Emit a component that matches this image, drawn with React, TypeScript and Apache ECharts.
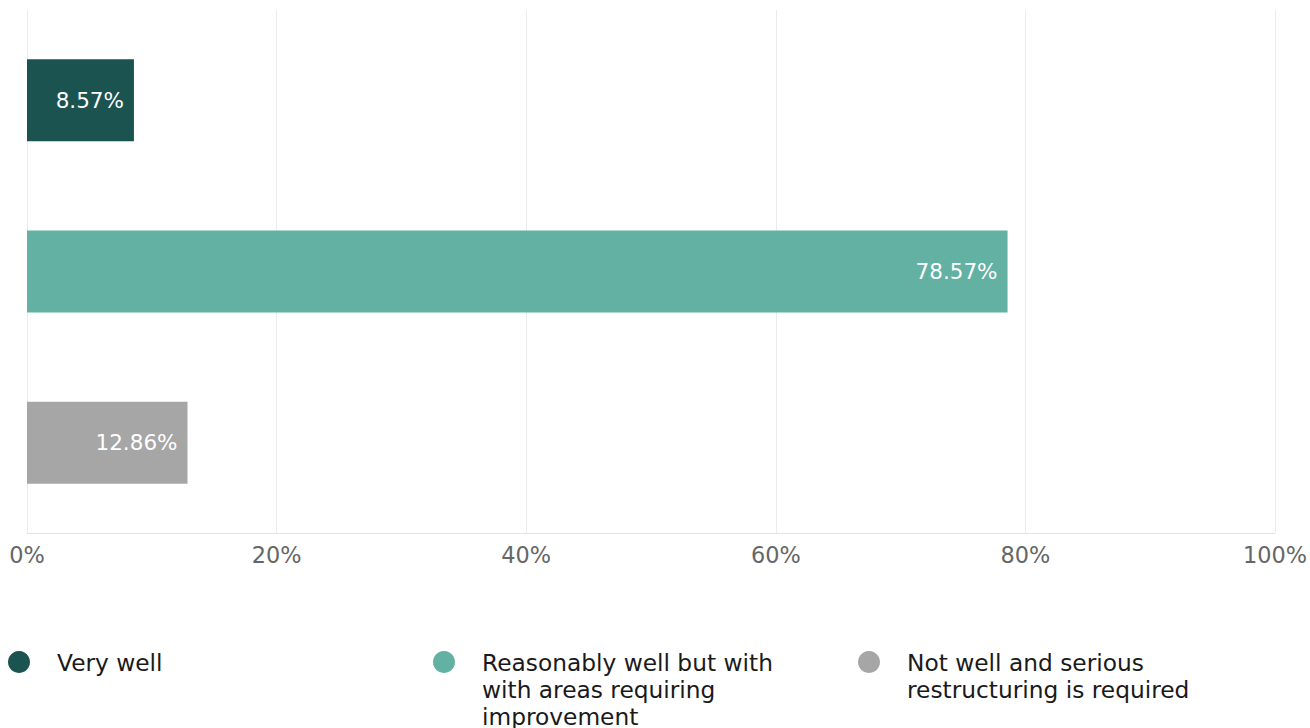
import React, { useEffect, useRef } from "react";
import * as echarts from "echarts";

const categories = [
  "Very well",
  "Reasonably well but with with areas requiring improvement",
  "Not well and serious restructuring is required",
];
const values = [8.57, 78.57, 12.86];
const colors = ["#1B5350", "#62B1A3", "#A6A6A6"];
const lineCounts = [1, 3, 2];
const xTicks = [0, 20, 40, 60, 80, 100];

const FONT = "DejaVu Sans";
const LH = 27;

export default function App() {
  const ref = useRef<HTMLDivElement>(null);
  useEffect(() => {
    if (!ref.current) return;
    const chart = echarts.init(ref.current, undefined, { renderer: "svg" });
    const series = categories.map((name, i) => ({
      name,
      type: "bar",
      barWidth: 82,
      barGap: "-103.7%",
      data: categories.map((_, j) => (j === i ? values[i] : null)),
      itemStyle: { color: colors[i] },
      label: {
        show: true,
        position: "insideRight",
        distance: 10,
        color: "#ffffff",
        fontFamily: FONT,
        fontSize: 21.5,
        formatter: (p: any) => (p.value == null ? "" : `${Number(p.value).toFixed(2)}%`),
      },
    }));
    const legends = categories.map((name, i) => {
      const n = lineCounts[i];
      const total = 2 * n - 1;
      return {
        show: true,
        data: [name],
        left: 8 + i * 425,
        top: 662 - total * (LH / 2),
        padding: 0,
        orient: "horizontal",
        icon: "circle",
        itemWidth: 22,
        itemHeight: 22,
        selectedMode: false,
        formatter: (nm: string) => "\n".repeat(n - 1) + nm,
        textStyle: {
          fontFamily: FONT,
          fontSize: 23.3,
          color: "#1a1a1a",
          lineHeight: LH,
          width: 320,
          overflow: "break",
          padding: [0, 0, 0, 22],
        },
      };
    });
    chart.setOption({
      animation: false,
      textStyle: { fontFamily: FONT },
      grid: { left: 27, right: 35, top: 10, bottom: 195, containLabel: false },
      legend: legends,
      xAxis: {
        type: "value",
        min: 0,
        max: 100,
        interval: 20,
        axisLine: { show: true, lineStyle: { color: "#e3e3e3" } },
        axisTick: { show: false },
        splitLine: { show: true, lineStyle: { color: "#ebebeb" } },
        axisLabel: {
          color: "#666666",
          fontFamily: FONT,
          fontSize: 22.4,
          margin: 11,
          customValues: xTicks,
          formatter: (v: number) => `${v}%`,
        },
      },
      yAxis: {
        type: "category",
        data: categories,
        inverse: true,
        show: false,
      },
      series,
    });
    return () => chart.dispose();
  }, []);
  return <div ref={ref} style={{ width: 1310, height: 728, position: "absolute", left: 0, top: 0 }} />;
}
